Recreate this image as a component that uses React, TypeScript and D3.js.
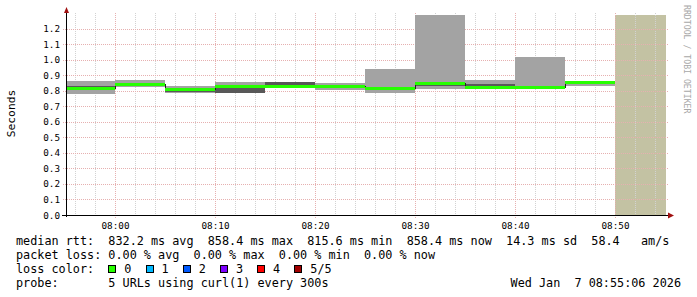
import React from "react";
import * as d3 from "d3";

// ---- data ----
const intervalStarts = ["07:55:06", "08:00:00", "08:05:00", "08:10:00", "08:15:00", "08:20:00", "08:25:00", "08:30:00", "08:35:00", "08:40:00", "08:45:00"];
const lastEnd = "08:50:00";
const rangeStart = "07:55:06";
const rangeEnd = "08:55:06";
const medianRtt = [0.821, 0.843, 0.8156, 0.832, 0.830, 0.834, 0.817, 0.852, 0.824, 0.823, 0.8584];
const minRtt = [0.783, 0.827, 0.787, 0.788, 0.818, 0.808, 0.789, 0.813, 0.818, 0.813, 0.832];
const maxRtt = [0.865, 0.871, 0.834, 0.858, 0.855, 0.850, 0.942, 1.29, 0.871, 1.021, 0.862];
const innerLo = [0.819, 0.830, 0.794, 0.790, 0.828, 0.829, 0.812, 0.830, 0.832, 0.815, 0.856];
const innerHi = [0.834, 0.837, 0.806, 0.826, 0.855, 0.837, 0.818, 0.845, 0.845, 0.826, 0.860];
const lossLabels = ["0", "1", "2", "3", "4", "5/5"];
const lossColors = ["#26ff00", "#00b8ff", "#0059ff", "#7e00ff", "#ff0000", "#a10000"];
const legendLines = [
  "median rtt:  832.2 ms avg  858.4 ms max  815.6 ms min  858.4 ms now  14.3 ms sd  58.4   am/s",
  "packet loss: 0.00 % avg  0.00 % max  0.00 % min  0.00 % now",
  "loss color:",
  "probe:       5 URLs using curl(1) every 300s",
];
const dateStamp = "Wed Jan  7 08:55:06 2026";
const yLabel = "Seconds";
const watermark = "RRDTOOL / TOBI OETIKER";

const toDate = (s: string) => {
  const [h, m, sec] = s.split(":").map(Number);
  return new Date(2026, 0, 7, h, m, sec);
};

const W = 697, H = 297;
const mono = "'DejaVu Sans Mono', monospace";

export default function App() {
  const x = d3.scaleTime().domain([toDate(rangeStart), toDate(rangeEnd)]).range([66, 666]);
  const y = d3.scaleLinear().domain([0, 1.29]).range([215, 15]);
  const yTop = 15, yBot = 215;

  const starts = intervalStarts.map(toDate);
  const ends = [...starts.slice(1), toDate(lastEnd)];
  const clipY = (v: number) => Math.max(yTop, y(v));

  const minor = d3.timeMinute.every(2)!.range(toDate(rangeStart), toDate(rangeEnd));
  const major = d3.timeMinute.every(10)!.range(toDate(rangeStart), toDate(rangeEnd));
  const yTicks = y.ticks(13).filter((v) => v <= 1.2 + 1e-9);
  const fmtY = d3.format(".1f");
  const fmtX = d3.timeFormat("%H:%M");

  const stepPts: [Date, number][] = [...starts.map((s, i) => [s, medianRtt[i]] as [Date, number]), [ends[ends.length - 1], medianRtt[medianRtt.length - 1]]];
  const stepLine = d3.line<[Date, number]>().x((d) => x(d[0])).y((d) => Math.round(y(d[1])) + 0.5).curve(d3.curveStepAfter)(stepPts) || "";

  const charW = 7.1;
  const textX = 16;

  return (
    <svg width={W} height={H} style={{ position: "absolute", left: 0, top: 0, background: "#fff" }}>
      <rect x={0} y={0} width={W} height={H} fill="#fff" />
      {/* unknown area */}
      <rect x={x(toDate(lastEnd))} y={yTop} width={x(toDate(rangeEnd)) - x(toDate(lastEnd))} height={yBot - yTop} fill="#c3c2a3" shapeRendering="crispEdges" />
      {/* grid */}
      <g shapeRendering="crispEdges">
        {minor.map((t, i) => (
          <line key={"mi" + i} x1={Math.round(x(t)) + 0.5} x2={Math.round(x(t)) + 0.5} y1={13} y2={yBot} stroke="#d2d2d2" strokeDasharray="1,1" />
        ))}
        {major.map((t, i) => (
          <line key={"ma" + i} x1={Math.round(x(t)) + 0.5} x2={Math.round(x(t)) + 0.5} y1={13} y2={yBot + 3} stroke="#e6b0b0" strokeDasharray="1,1" />
        ))}
        {yTicks.filter((v) => v > 0).map((v, i) => (
          <line key={"hy" + i} x1={63} x2={669} y1={Math.round(y(v)) + 0.5} y2={Math.round(y(v)) + 0.5} stroke="#e6b0b0" strokeDasharray="1,1" />
        ))}
      </g>
      {/* smoke */}
      <g shapeRendering="crispEdges">
        {starts.map((s, i) => (
          <rect key={"sm" + i} x={Math.round(x(s))} width={Math.round(x(ends[i])) - Math.round(x(s))} y={Math.round(clipY(maxRtt[i]))} height={Math.round(y(minRtt[i])) - Math.round(clipY(maxRtt[i]))} fill="#a3a3a3" />
        ))}
        {starts.map((s, i) => (
          <rect key={"sd" + i} x={Math.round(x(s))} width={Math.round(x(ends[i])) - Math.round(x(s))} y={Math.round(y(innerHi[i]))} height={Math.round(y(innerLo[i])) - Math.round(y(innerHi[i]))} fill="#585858" />
        ))}
      </g>
      {/* median step line */}
      <path d={stepLine} fill="none" stroke="#202020" strokeWidth={1} shapeRendering="crispEdges" />
      {starts.map((s, i) => (
        <line key={"md" + i} x1={Math.round(x(s))} x2={Math.round(x(ends[i]))} y1={Math.round(y(medianRtt[i])) + 0.5} y2={Math.round(y(medianRtt[i])) + 0.5} stroke={lossColors[0]} strokeWidth={3} shapeRendering="crispEdges" />
      ))}
      {/* axes */}
      <line x1={66.5} x2={66.5} y1={yBot + 2} y2={11} stroke="#000" shapeRendering="crispEdges" />
      <line x1={62} x2={669} y1={yBot + 0.5} y2={yBot + 0.5} stroke="#000" shapeRendering="crispEdges" />
      <path d={`M${64} ${13} L${69} ${13} L${66.5} ${7} Z`} fill="#a01010" />
      <path d={`M${668} ${212.5} L${668} ${218.5} L${674} ${215.5} Z`} fill="#a01010" />
      {/* tick labels */}
      <g fontFamily={mono} fontSize={9.3} fill="#000">
        {yTicks.map((v, i) => (
          <text key={"yl" + i} x={60} y={y(v) + 3.5} textAnchor="end">{fmtY(v)}</text>
        ))}
        {major.map((t, i) => (
          <text key={"xl" + i} x={x(t) + 0.5} y={228.5} textAnchor="middle">{fmtX(t)}</text>
        ))}
      </g>
      <text transform="translate(14.5,113.5) rotate(-90)" fontFamily={mono} fontSize={11.3} textAnchor="middle" fill="#000">{yLabel}</text>
      <text transform="translate(684,5) rotate(90)" fontFamily={mono} fontSize={8.2} fill="#a8a8a8">{watermark}</text>
      {/* legend */}
      <g fontFamily={mono} fontSize={11.8} fill="#000" style={{ whiteSpace: "pre" }}>
        {legendLines.map((l, i) => (
          <text key={"lg" + i} x={textX} y={245 + i * 14} xmlSpace="preserve">{l}</text>
        ))}
        <text x={681} y={287} textAnchor="end" xmlSpace="preserve">{dateStamp}</text>
        {lossLabels.map((lab, i) => {
          const bx = textX + 13 * charW + i * 37.2;
          return (
            <g key={"lc" + i}>
              <rect x={Math.round(bx) + 0.5} y={265.5} width={7} height={7} fill={lossColors[i]} stroke="#000" shapeRendering="crispEdges" />
              <text x={bx + 16} y={273}>{lab}</text>
            </g>
          );
        })}
      </g>
    </svg>
  );
}
